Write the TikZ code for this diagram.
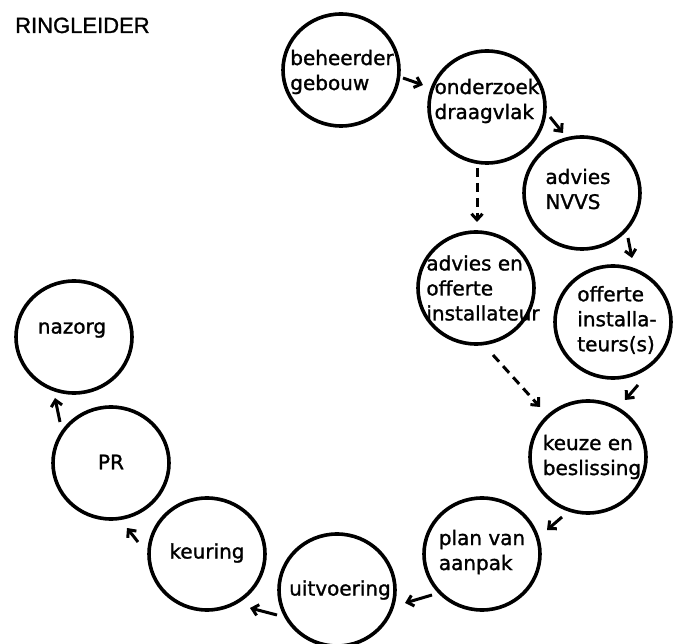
\documentclass[tikz,border=0pt]{standalone}
\usepackage{fontspec}
\setmainfont{DejaVu Sans}
\newfontfamily\ringfont{DejaVu Sans}[FakeBold=1.3]
\newfontfamily\titlefont{Liberation Sans}[FakeBold=1.2]
\usetikzlibrary{shapes.geometric,arrows.meta,calc}
\begin{document}
\begin{tikzpicture}[x=1pt,y=-1pt,
  ring/.style={ellipse, draw, line width=3.6pt, minimum width=116pt, minimum height=112pt, inner sep=0pt},
  txt/.style={align=left, inner sep=0pt, font=\ringfont\fontsize{20}{25}\selectfont},
  arr/.style={line width=3pt, -{Straight Barb[length=6pt,width=11pt]}},
  darr/.style={arr, dash pattern=on 9pt off 6pt}]
\useasboundingbox (0,0) rectangle (673,644);
\fill[white] (0,0) rectangle (673,644);

\node[anchor=base west, inner sep=0pt, font=\titlefont\fontsize{22}{26}\selectfont] (title) at (15,33) {RINGLEIDER};

\node[ring] (beh)  at (341,70)  {};
\node[ring] (ond)  at (487,107) {};
\node[ring] (nvvs) at (582,193) {};
\node[ring] (adv)  at (476,288) {};
\node[ring] (off)  at (613,322) {};
\node[ring] (keu)  at (588,457) {};
\node[ring] (plan) at (482,554) {};
\node[ring] (uit)  at (337,590) {};
\node[ring] (keur) at (207,554) {};
\node[ring] (PR)   at (111,463) {};
\node[ring] (naz)  at (74,337)  {};

\node[txt] (behT)  at (342,72)  {beheerder\\gebouw};
\node[txt] (ondT)  at (487,101) {onderzoek\\draagvlak};
\node[txt] (nvvsT) at (578,189) {advies\\NVVS};
\node[txt] (advT)  at (483,288) {advies en\\offerte\\installateur};
\node[txt] (offT)  at (617,320) {offerte\\installa-\\teurs(s)};
\node[txt] (keuT)  at (592,457) {keuze en\\beslissing};
\node[txt] (planT) at (482,552) {plan van\\aanpak};
\node[txt] (uitT)  at (340,590) {uitvoering};
\node[txt] (keurT) at (207,553) {keuring};
\node[txt] (PRT)   at (111,462) {PR};
\node[txt] (nazT)  at (72,330)  {nazorg};

\draw[arr]  ($(beh)+(62,8)$)    -- ($(ond)+(-64,-22)$);
\draw[arr]  ($(ond)+(63,10)$)   -- ($(nvvs)+(-19,-60)$);
\draw[darr] ($(ond)+(-10,61)$)  -- ($(adv)+(1,-66)$);
\draw[arr]  ($(nvvs)+(46,45)$)  -- ($(off)+(19,-64)$);
\draw[darr] ($(adv)+(17,67)$)   -- ($(keu)+(-48,-50)$);
\draw[arr]  ($(off)+(25,63)$)   -- ($(keu)+(37,-57)$);
\draw[arr]  ($(keu)+(-26,60)$)  -- ($(plan)+(65,-24)$);
\draw[arr]  ($(plan)+(-50,41)$) -- ($(uit)+(68,13)$);
\draw[arr]  ($(uit)+(-60,25)$)  -- ($(keur)+(43,54)$);
\draw[arr]  ($(keur)+(-69,-12)$) -- ($(PR)+(16,65)$);
\draw[arr]  ($(PR)+(-51,-41)$)  -- ($(naz)+(-19,61)$);
\end{tikzpicture}
\end{document}
